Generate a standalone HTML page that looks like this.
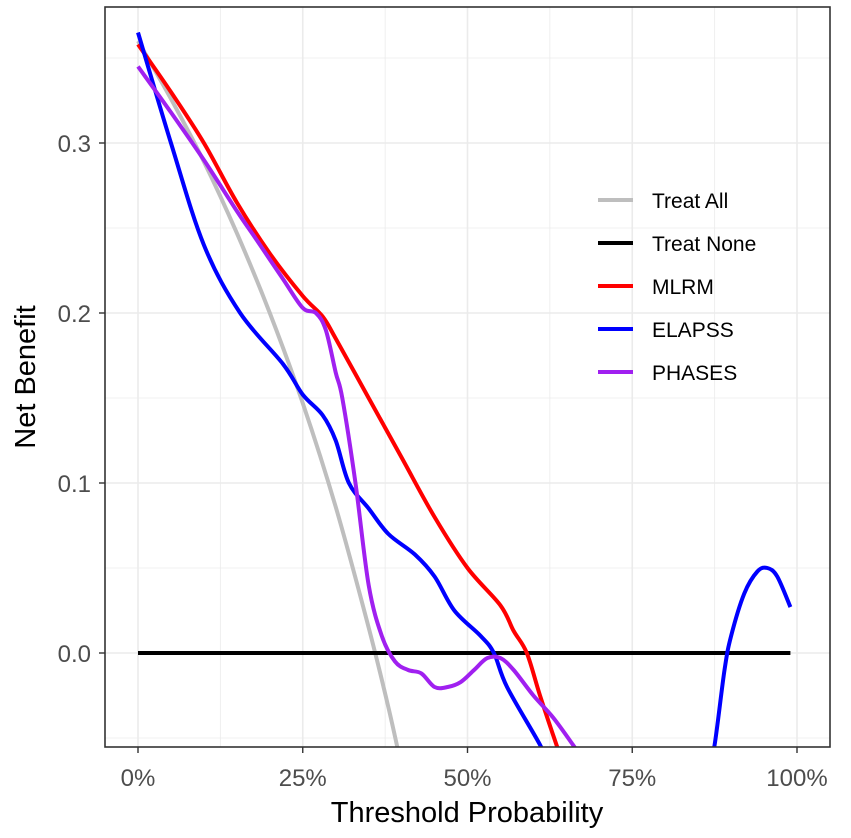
<!DOCTYPE html>
<html><head><meta charset="utf-8"><style>
body{margin:0;background:#fff;}
svg{display:block;font-family:"Liberation Sans",Arial,sans-serif;}
</style></head><body>
<svg id="chart" width="851" height="838"></svg>
<script>
const xTicks=[0,25,50,75,100];
const xTickLabels=["0%","25%","50%","75%","100%"];
const yTicks=[0,0.1,0.2,0.3];
const yTickLabels=["0.0","0.1","0.2","0.3"];
const treatAllX=[0,5,10,15,20,25,30,35,38,40];
const treatAllY=[0.36,0.326,0.289,0.247,0.2,0.147,0.086,0.015,-0.032,-0.067];
const treatNoneX=[0,99];
const treatNoneY=[0,0];
const mlrmX=[0,5,10,15,20,25,28,30,35,40,45,50,55,57,59,61,63.5,65];
const mlrmY=[0.358,0.33,0.3,0.265,0.235,0.21,0.198,0.185,0.15,0.115,0.08,0.05,0.028,0.013,0,-0.025,-0.054,-0.07];
const elapssX=[0,5,10,15.5,22,25,28,30,32,35,38,42,45,48,52,54,56,61,62];
const elapssY=[0.365,0.3,0.24,0.2,0.17,0.152,0.14,0.125,0.1,0.085,0.07,0.058,0.045,0.025,0.01,0,-0.02,-0.054,-0.064];
const elapss2X=[86.5,87.5,89,90,92,94,95.5,97,99];
const elapss2Y=[-0.07,-0.054,-0.01,0.01,0.035,0.048,0.05,0.045,0.027];
const phasesX=[0,5,10,15,18,22,25,27,28.5,30,31,33,35,37,39,41,43,45,47,49,51,53,55,57,60,63,66,67];
const phasesY=[0.345,0.318,0.29,0.26,0.243,0.22,0.203,0.2,0.19,0.165,0.15,0.1,0.04,0.01,-0.005,-0.01,-0.012,-0.02,-0.02,-0.017,-0.01,-0.003,-0.003,-0.01,-0.025,-0.038,-0.054,-0.06];

const NS="http://www.w3.org/2000/svg";
const svg=document.getElementById('chart');
const L=105,R=830,T=7,B=747;
const xs=v=>138+v*6.59;
const ys=v=>653-v*1700;
function mk(tag,attrs,parent){const e=document.createElementNS(NS,tag);for(const k in attrs)e.setAttribute(k,attrs[k]);(parent||svg).appendChild(e);return e;}
const defs=mk('defs',{});const cp=mk('clipPath',{id:'pc'},defs);mk('rect',{x:L,y:T,width:R-L,height:B-T},cp);
for(let v=-0.05;v<=0.36;v+=0.05){const g=mk('line',{x1:L,x2:R,y1:ys(v),y2:ys(v),stroke:'#ebebeb','stroke-width':Math.abs(Math.round(v*100)%10)<1?1.6:0.8});

}
for(let v=0;v<=100;v+=12.5){const g=mk('line',{x1:xs(v),x2:xs(v),y1:T,y2:B,stroke:'#ebebeb','stroke-width':(v%25===0)?1.6:0.8});

}
function path(X,Y){const p=X.map((x,i)=>[xs(x),ys(Y[i])]);let d='M'+p[0][0]+','+p[0][1];
for(let i=0;i<p.length-1;i++){const p0=p[Math.max(0,i-1)],p1=p[i],p2=p[i+1],p3=p[Math.min(p.length-1,i+2)];
const c1=[p1[0]+(p2[0]-p0[0])/6,p1[1]+(p2[1]-p0[1])/6],c2=[p2[0]-(p3[0]-p1[0])/6,p2[1]-(p3[1]-p1[1])/6];
d+=' C'+c1[0]+','+c1[1]+' '+c2[0]+','+c2[1]+' '+p2[0]+','+p2[1];}return d;}
const g=mk('g',{'clip-path':'url(#pc)'});
function series(X,Y,col,name){const e=mk('path',{d:path(X,Y),fill:'none',stroke:col,'stroke-width':4,'stroke-linejoin':'round'},g);

}
series(treatAllX,treatAllY,'#bebebe','treat-all-line');
series(treatNoneX,treatNoneY,'#000000','treat-none-line');
series(mlrmX,mlrmY,'#ff0000','mlrm-line');
series(elapssX,elapssY,'#0000ff','elapss-line');
series(elapss2X,elapss2Y,'#0000ff','elapss-line-right');
series(phasesX,phasesY,'#a020f0','phases-line');
const bd=mk('rect',{x:L,y:T,width:R-L,height:B-T,fill:'none',stroke:'#333','stroke-width':1.6});


xTicks.forEach((v,i)=>{mk('line',{x1:xs(v),x2:xs(v),y1:B,y2:B+6,stroke:'#333','stroke-width':1.4});
const t=mk('text',{x:xs(v),y:786,'text-anchor':'middle','font-size':24,fill:'#4d4d4d'});t.textContent=xTickLabels[i];

});
yTicks.forEach((v,i)=>{mk('line',{x1:L-6,x2:L,y1:ys(v),y2:ys(v),stroke:'#333','stroke-width':1.4});
const t=mk('text',{x:91,y:ys(v)+9,'text-anchor':'end','font-size':24,fill:'#4d4d4d'});t.textContent=yTickLabels[i];

});
const xt=mk('text',{x:467,y:822,'text-anchor':'middle','font-size':29,fill:'#000'});xt.textContent='Threshold Probability';


const yt=mk('text',{x:0,y:0,transform:'translate(35,377) rotate(-90)','text-anchor':'middle','font-size':29,fill:'#000'});yt.textContent='Net Benefit';


const leg=[['Treat All','#bebebe'],['Treat None','#000'],['MLRM','#ff0000'],['ELAPSS','#0000ff'],['PHASES','#a020f0']];
leg.forEach((l,i)=>{const y=200+i*43;const gg=mk('g',{});


mk('line',{x1:598,x2:633,y1:y,y2:y,stroke:l[1],'stroke-width':4},gg);
const t=mk('text',{x:652,y:y+8,'font-size':21,fill:'#000'},gg);t.textContent=l[0];});
</script>
</body></html>
